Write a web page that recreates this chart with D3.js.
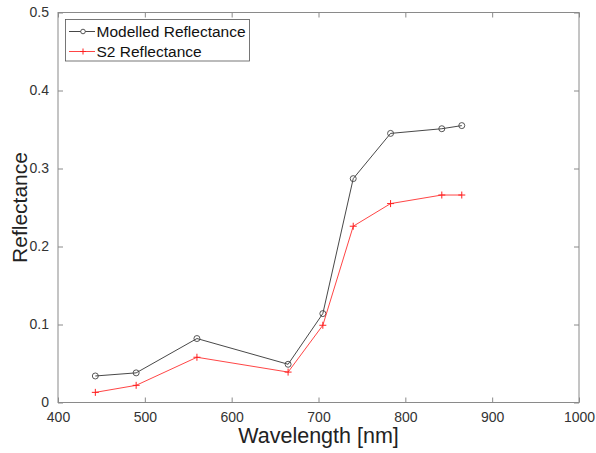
<!DOCTYPE html>
<html>
<head>
<meta charset="utf-8">
<script src="https://cdn.jsdelivr.net/npm/d3@7"></script>
<style>
  html, body { margin: 0; padding: 0; background: #fff; }
  svg { display: block; font-family: "Liberation Sans", Arial, sans-serif; }
</style>
</head>
<body>
<svg id="chart" width="596" height="453"></svg>
<script>
// Sentinel-2 band centre wavelengths (nm)
const wavelengths = [443, 490, 560, 665, 705, 740, 783, 842, 865];
// Reflectance per band
const modelled = [0.034, 0.038, 0.082, 0.049, 0.114, 0.287, 0.345, 0.351, 0.355];
const s2 = [0.013, 0.022, 0.058, 0.039, 0.099, 0.226, 0.255, 0.266, 0.266];
const xTicks = [400, 500, 600, 700, 800, 900, 1000];
const yTicks = [0, 0.1, 0.2, 0.3, 0.4, 0.5];
const seriesNames = ["Modelled Reflectance", "S2 Reflectance"];

const svg = d3.select("#chart");
const m = { left: 58, right: 596 - 579, top: 12.5, bottom: 453 - 402.5 };
const W = 596 - m.left - m.right, H = 453 - m.top - m.bottom;

const x = d3.scaleLinear().domain([400, 1000]).range([m.left, m.left + W]);
const y = d3.scaleLinear().domain([0, 0.5]).range([m.top + H, m.top]);

const axisColor = "#8a8a8a";
const textColor = "#333";

// plot frame
svg.append("rect")
  .attr("x", m.left).attr("y", m.top).attr("width", W).attr("height", H)
  .attr("fill", "none").attr("stroke", axisColor).attr("stroke-width", 1);

const tickLen = 5;
function styleAxis(g) {
  g.select(".domain").remove();
  g.selectAll(".tick line").attr("stroke", axisColor);
  g.selectAll(".tick text").attr("fill", textColor).attr("font-size", 14)
    .attr("font-family", "Liberation Sans, Arial, sans-serif");
}

// bottom axis with inward ticks
svg.append("g").attr("transform", `translate(0,${m.top + H})`)
  .call(d3.axisBottom(x).tickValues(xTicks).tickFormat(d3.format("d")).tickSizeInner(-tickLen).tickSizeOuter(0).tickPadding(10))
  .call(styleAxis);
// top axis ticks
svg.append("g").attr("transform", `translate(0,${m.top})`)
  .call(d3.axisTop(x).tickValues(xTicks).tickFormat("").tickSizeInner(-tickLen).tickSizeOuter(0))
  .call(styleAxis);
// left axis
svg.append("g").attr("transform", `translate(${m.left},0)`)
  .call(d3.axisLeft(y).tickValues(yTicks).tickFormat(d => d === 0 ? "0" : d3.format(".1f")(d)).tickSizeInner(-tickLen).tickSizeOuter(0).tickPadding(9))
  .call(styleAxis);
// right axis ticks
svg.append("g").attr("transform", `translate(${m.left + W},0)`)
  .call(d3.axisRight(y).tickValues(yTicks).tickFormat("").tickSizeInner(-tickLen).tickSizeOuter(0))
  .call(styleAxis);

// axis titles
svg.append("text").attr("x", m.left + W / 2).attr("y", 443)
  .attr("text-anchor", "middle").attr("font-size", 21.5).attr("fill", "#222")
  .text("Wavelength [nm]");
svg.append("text").attr("transform", `translate(27,${m.top + H / 2}) rotate(-90)`)
  .attr("text-anchor", "middle").attr("font-size", 21).attr("fill", "#222")
  .text("Reflectance");

const line = d3.line().x(d => x(d[0])).y(d => y(d[1]));
const modPts = wavelengths.map((w, i) => [w, modelled[i]]);
const s2Pts = wavelengths.map((w, i) => [w, s2[i]]);

// modelled series: black line with circle markers
svg.append("path").datum(modPts).attr("d", line)
  .attr("fill", "none").attr("stroke", "#333").attr("stroke-width", 0.9);
svg.append("g").selectAll("circle").data(modPts).join("circle")
  .attr("cx", d => x(d[0])).attr("cy", d => y(d[1])).attr("r", 3)
  .attr("fill", "none").attr("stroke", "#444").attr("stroke-width", 0.9);

// S2 series: red line with plus markers
svg.append("path").datum(s2Pts).attr("d", line)
  .attr("fill", "none").attr("stroke", "#ff3030").attr("stroke-width", 0.9);
const plus = (g, cx, cy, s) => {
  g.append("line").attr("x1", cx - s).attr("x2", cx + s).attr("y1", cy).attr("y2", cy);
  g.append("line").attr("x1", cx).attr("x2", cx).attr("y1", cy - s).attr("y2", cy + s);
};
const plusG = svg.append("g").attr("stroke", "#ff2020").attr("stroke-width", 1);
s2Pts.forEach(d => plus(plusG, x(d[0]), y(d[1]), 3.5));

// legend
const lg = svg.append("g");
lg.append("rect").attr("x", 65.5).attr("y", 19.5).attr("width", 184).attr("height", 41.5)
  .attr("fill", "#fff").attr("stroke", "#555").attr("stroke-width", 0.8);
const rows = [
  { name: seriesNames[0], color: "#333", y: 31.5, marker: "circle" },
  { name: seriesNames[1], color: "#ff3030", y: 51.5, marker: "plus" }
];
rows.forEach(r => {
  lg.append("line").attr("x1", 69).attr("x2", 95).attr("y1", r.y).attr("y2", r.y)
    .attr("stroke", r.color).attr("stroke-width", 0.9);
  if (r.marker === "circle") {
    lg.append("circle").attr("cx", 83).attr("cy", r.y).attr("r", 2.3)
      .attr("fill", "#fff").attr("stroke", "#444").attr("stroke-width", 0.9);
  } else {
    const pg = lg.append("g").attr("stroke", "#ff2020").attr("stroke-width", 1);
    plus(pg, 83, r.y, 3);
  }
  lg.append("text").attr("x", 96.5).attr("y", r.y + 5.3).attr("font-size", 15.5)
    .attr("fill", "#111").text(r.name);
});
</script>
</body>
</html>
